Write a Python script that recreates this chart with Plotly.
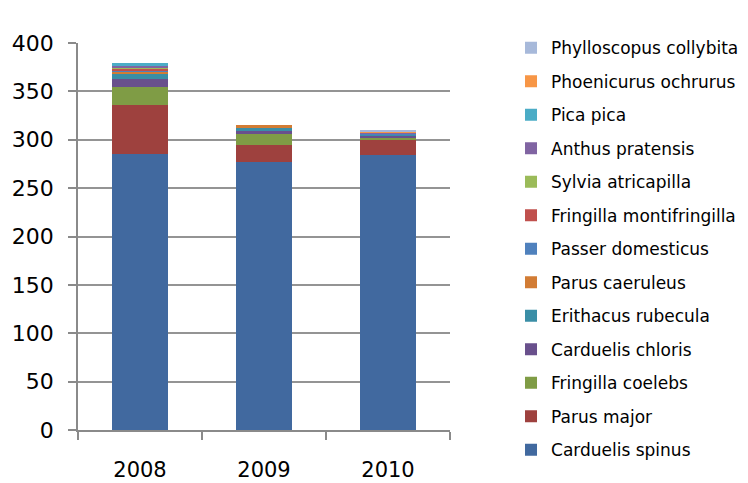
import plotly.graph_objects as go

years = ["2008", "2009", "2010"]

species = [
    "Carduelis spinus",
    "Parus major",
    "Fringilla coelebs",
    "Carduelis chloris",
    "Erithacus rubecula",
    "Parus caeruleus",
    "Passer domesticus",
    "Fringilla montifringilla",
    "Sylvia atricapilla",
    "Anthus pratensis",
    "Pica pica",
    "Phoenicurus ochrurus",
    "Phylloscopus collybita",
]

carduelis_spinus = [285, 277, 284]
parus_major = [51, 18, 16]
fringilla_coelebs = [19, 11, 2]
carduelis_chloris = [8, 4, 2]
erithacus_rubecula = [5, 2, 1]
parus_caeruleus = [3, 3, 0]
passer_domesticus = [1, 0, 1]
fringilla_montifringilla = [2, 0, 0]
sylvia_atricapilla = [1, 0, 0]
anthus_pratensis = [1, 0, 1]
pica_pica = [3, 0, 0]
phoenicurus_ochrurus = [0, 0, 2]
phylloscopus_collybita = [0, 0, 1]

values = [
    carduelis_spinus, parus_major, fringilla_coelebs, carduelis_chloris,
    erithacus_rubecula, parus_caeruleus, passer_domesticus,
    fringilla_montifringilla, sylvia_atricapilla, anthus_pratensis,
    pica_pica, phoenicurus_ochrurus, phylloscopus_collybita,
]

colors = [
    "#41699F", "#9E413E", "#7F9C45", "#69508C", "#3A8EA6", "#D27C34",
    "#4F81BD", "#C0504D", "#9BBB59", "#8064A2", "#4BACC6", "#F79646",
    "#A7B9DA",
]

y_ticks = [0, 50, 100, 150, 200, 250, 300, 350, 400]

fig = go.Figure()
for i, (name, vals, col) in enumerate(zip(species, values, colors)):
    fig.add_trace(go.Bar(
        x=years, y=vals, name=name, legendgroup=name,
        legendrank=1000 - i,
        marker=dict(color=col, line=dict(width=0)),
        width=0.45,
    ))

FONT = "'DejaVu Sans', sans-serif"
fig.update_layout(
    barmode="stack",
    width=748, height=483,
    margin=dict(l=70, r=306, t=35, b=61, autoexpand=False),
    paper_bgcolor="white", plot_bgcolor="white",
    font=dict(family=FONT, color="#000000"),
    xaxis=dict(
        showgrid=False, showline=True, linecolor="#8a8a8a", linewidth=1.5,
        ticks="outside", tickson="boundaries", tickcolor="#8a8a8a", ticklen=8,
        tickwidth=1.5, tickfont=dict(size=21), ticklabelstandoff=20,
    ),
    yaxis=dict(
        range=[0, 400], tickvals=y_ticks, showgrid=True,
        gridcolor="#949494", gridwidth=1.5, zeroline=False,
        showline=True, linecolor="#8a8a8a", linewidth=1.5,
        ticks="outside", tickcolor="#8a8a8a", ticklen=8, tickwidth=1.5,
        tickfont=dict(size=22), ticklabelstandoff=10,
    ),
    legend=dict(
        traceorder="grouped", tracegroupgap=8.4,
        font=dict(size=17), x=1.164, xref="paper",
        y=1.033, yref="paper", yanchor="top",
        itemwidth=30, bgcolor="rgba(0,0,0,0)", maxheight=483,
    ),
)

fig.write_html("out.html")
